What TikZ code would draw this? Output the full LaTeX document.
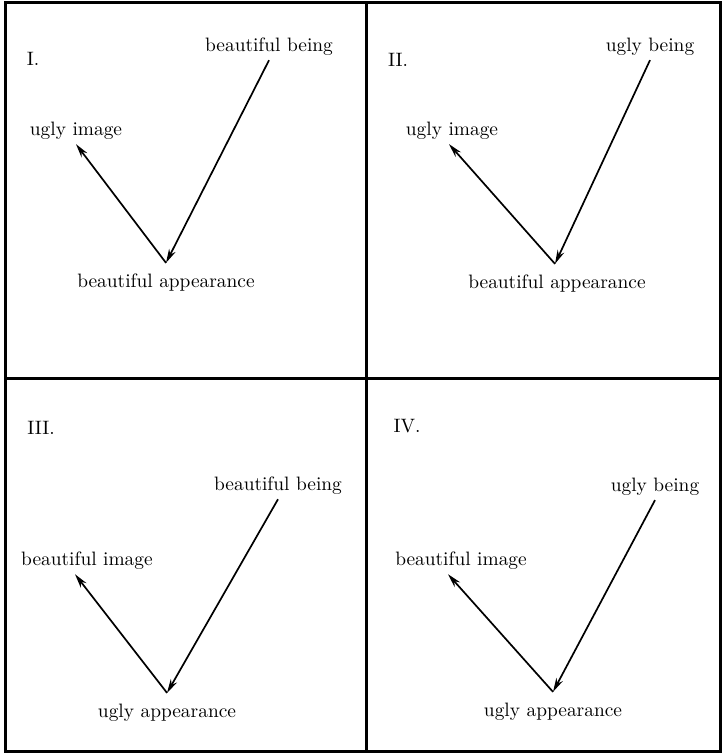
\documentclass[tikz,border=0pt]{standalone}
\usepackage{tikz}
\usetikzlibrary{arrows.meta,positioning}

\begin{document}
\begin{tikzpicture}[x=0.5pt,y=-0.5pt,>={Stealth[length=7pt,width=3.6pt]},
  lab/.style={font=\fontsize{9.7}{11}\selectfont,inner sep=2pt},
  num/.style={font=\fontsize{9.7}{11}\selectfont,inner sep=0pt},
  frame/.style={line width=1.5pt},
  link/.style={->,line width=0.85pt}]
\useasboundingbox (0,0) rectangle (722,754);
% frame and dividers
\draw[frame] (5,3) rectangle (720,751);
\draw[frame] (366,3) -- (366,751);
\draw[frame] (5,378) -- (720,378);
% I.
\node[num] (nI) at (33,59) {I.};
\node[lab] (beingI) at (269,47) {beautiful being};
\node[lab] (imgI) at (76,131) {ugly image};
\node[lab] (appI) at (166,283) {beautiful appearance};
\coordinate (vI) at ([yshift=3.5pt]appI.north);
\draw[link] (beingI.south) -- (vI);
\draw[link] (vI) -- (imgI.south);
% II.
\node[num] (nII) at (398,60) {II.};
\node[lab] (beingII) at (650,47) {ugly being};
\node[lab] (imgII) at (452,131) {ugly image};
\node[lab] (appII) at (557,284) {beautiful appearance};
\coordinate (vII) at ([xshift=-1pt,yshift=3.5pt]appII.north);
\draw[link] (beingII.south) -- (vII);
\draw[link] (vII) -- ([xshift=-1.5pt]imgII.south);
% III.
\node[num] (nIII) at (41,428) {III.};
\node[lab] (beingIII) at (278,486) {beautiful being};
\node[lab] (imgIII) at (87,561) {beautiful image};
\node[lab] (appIII) at (167,713) {ugly appearance};
\coordinate (vIII) at ([yshift=3.5pt]appIII.north);
\draw[link] (beingIII.south) -- (vIII);
\draw[link] (vIII) -- ([xshift=-6pt]imgIII.south);
% IV.
\node[num] (nIV) at (407,426) {IV.};
\node[lab] (beingIV) at (655,487) {ugly being};
\node[lab] (imgIV) at (461,561) {beautiful image};
\node[lab] (appIV) at (553,712) {ugly appearance};
\coordinate (vIV) at ([yshift=3.5pt]appIV.north);
\draw[link] (beingIV.south) -- (vIV);
\draw[link] (vIV) -- ([xshift=-6.5pt]imgIV.south);
\end{tikzpicture}
\end{document}
